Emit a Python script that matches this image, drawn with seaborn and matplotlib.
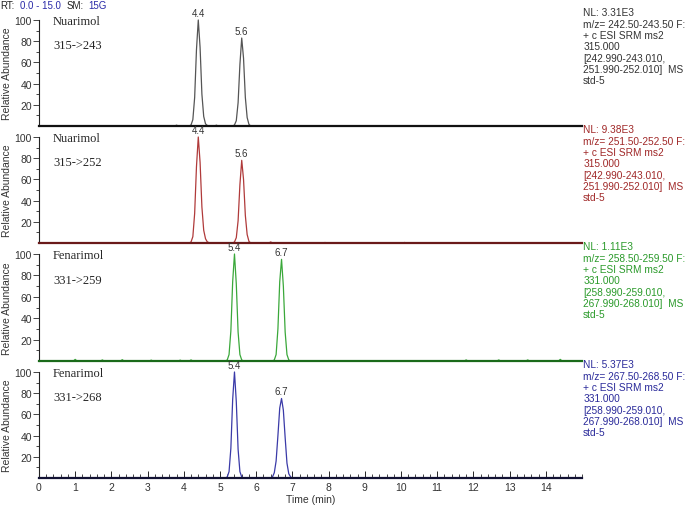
import numpy as np
import pandas as pd
import matplotlib.pyplot as plt
import seaborn as sns

# ---- data (time in min, relative abundance in %) ----
nua243_t = [0, 3.75, 3.8, 3.85, 4.15, 4.2, 4.25, 4.3, 4.35, 4.4, 4.45, 4.5, 4.55, 4.6, 4.65, 4.7,
            4.85, 4.9, 4.95, 5.35, 5.4, 5.45, 5.5, 5.55, 5.6, 5.65, 5.7, 5.75, 5.8, 5.85, 15]
nua243_y = [0, 0, 0.8, 0, 0, 1, 6, 27, 72, 100, 74, 30, 9, 2, 0.5, 0,
            0, 0.8, 0, 0, 1, 5, 22, 58, 83, 64, 27, 8, 1.5, 0, 0]

nua252_t = [0, 4.15, 4.2, 4.25, 4.3, 4.35, 4.4, 4.45, 4.5, 4.55, 4.6, 4.65, 4.7, 4.75,
            5.35, 5.4, 5.45, 5.5, 5.55, 5.6, 5.65, 5.7, 5.75, 5.8, 5.85,
            6.35, 6.4, 6.45, 7.85, 7.9, 7.95, 10.05, 10.1, 10.15, 15]
nua252_y = [0, 0, 1, 6, 28, 72, 100, 76, 34, 12, 4, 1, 0.3, 0,
            0, 1, 5, 21, 55, 78, 60, 26, 8, 1.5, 0,
            0, 1, 0, 0, 0.5, 0, 0, 0.5, 0, 0]

fen259_t = [0, 0.95, 1.0, 1.05, 1.7, 1.75, 1.8, 2.25, 2.3, 2.35, 3.05, 3.1, 3.15, 3.85, 3.9, 3.95,
            4.15, 4.2, 4.25, 5.15, 5.2, 5.25, 5.3, 5.35, 5.4, 5.45, 5.5, 5.55, 5.6, 5.65,
            6.45, 6.5, 6.55, 6.6, 6.65, 6.7, 6.75, 6.8, 6.85, 6.9, 6.95,
            11.75, 11.8, 11.85, 12.65, 12.7, 12.75, 13.45, 13.5, 13.55, 14.35, 14.4, 14.45, 15]
fen259_y = [0, 0, 1.5, 0, 0, 1, 0, 0, 1.2, 0, 0, 0.8, 0, 0, 0.8, 0,
            0, 1, 0, 0, 1, 6, 28, 74, 100, 72, 27, 6, 1, 0,
            0, 1, 6, 30, 74, 95, 70, 27, 6, 1, 0,
            0, 1, 0, 0, 1, 0, 0, 1, 0, 0, 1.5, 0, 0]

fen268_t = [0, 5.15, 5.2, 5.25, 5.3, 5.35, 5.4, 5.45, 5.5, 5.55, 5.6, 5.65,
            6.4, 6.45, 6.5, 6.55, 6.6, 6.65, 6.7, 6.75, 6.8, 6.85, 6.9, 6.95, 7.0, 15]
fen268_y = [0, 0, 1, 6, 28, 74, 100, 72, 27, 6, 1, 0,
            0, 1, 5, 16, 40, 66, 75, 64, 38, 14, 4, 1, 0, 0]

traces = [nua243_t, nua252_t, fen259_t, fen268_t]
values = [nua243_y, nua252_y, fen259_y, fen268_y]
compounds = ["Nuarimol", "Nuarimol", "Fenarimol", "Fenarimol"]
transitions = ["315->243", "315->252", "331->259", "331->268"]
peak_times = [[4.4, 5.6], [4.4, 5.6], [5.4, 6.7], [5.4, 6.7]]
peak_heights = [[100, 83], [100, 78], [100, 95], [100, 75]]
info = [
    "NL: 3.31E3\nm/z= 242.50-243.50 F:\n+ c ESI SRM ms2\n315.000\n[242.990-243.010,\n251.990-252.010]  MS\nstd-5",
    "NL: 9.38E3\nm/z= 251.50-252.50 F:\n+ c ESI SRM ms2\n315.000\n[242.990-243.010,\n251.990-252.010]  MS\nstd-5",
    "NL: 1.11E3\nm/z= 258.50-259.50 F:\n+ c ESI SRM ms2\n331.000\n[258.990-259.010,\n267.990-268.010]  MS\nstd-5",
    "NL: 5.37E3\nm/z= 267.50-268.50 F:\n+ c ESI SRM ms2\n331.000\n[258.990-259.010,\n267.990-268.010]  MS\nstd-5",
]
line_colors = ["#555555", "#b03a3a", "#3aa83a", "#3a3aa8"]
text_colors = ["#333333", "#a02828", "#2a9a2a", "#2a2a9a"]
base_colors = ["#111111", "#6a1a1a", "#1a6a1a", "#111133"]

sns.set_style("ticks")
plt.rcParams['font.family'] = ['Liberation Sans', 'DejaVu Sans']

fig = plt.figure(figsize=(6.85, 5.10), dpi=100)
W, H = 685, 510
left, right = 39, 582
tops = [21, 138, 255, 373]
bottoms = [127, 244, 362, 479]

for i in range(4):
    ax = fig.add_axes([left / W, 1 - bottoms[i] / H, (right - left) / W, (bottoms[i] - tops[i]) / H])
    df = pd.DataFrame({"Time": traces[i], "Abundance": values[i]})
    sns.lineplot(data=df, x="Time", y="Abundance", ax=ax, color=line_colors[i], lw=0.9, clip_on=False)
    ax.set_xlim(0, 15)
    ax.set_ylim(0, 100)
    for s in ["top", "right"]:
        ax.spines[s].set_visible(False)
    ax.spines["left"].set_linewidth(0.8)
    ax.spines["left"].set_color("#222222")
    ax.spines["bottom"].set_linewidth(1.6)
    ax.spines["bottom"].set_color(base_colors[i])
    ax.set_yticks([20, 40, 60, 80, 100])
    ax.set_yticks(np.arange(10, 100, 10), minor=True)
    ax.tick_params(axis="y", which="major", length=4, width=0.6, labelsize=7.5,
                   labelcolor="#333333", pad=1)
    ax.tick_params(axis="y", which="minor", length=2, width=0.6)
    ax.set_ylabel("Relative Abundance", fontsize=7.5, color="#333333", labelpad=2)
    if i < 3:
        ax.set_xticks([])
        ax.set_xlabel("")
    else:
        ax.set_xticks(range(0, 15))
        ax.set_xticks(np.arange(0, 15.01, 0.2), minor=True)
        ax.tick_params(axis="x", which="major", direction="in", length=5, width=0.7,
                       labelsize=7.5, labelcolor="#333333", pad=3)
        ax.tick_params(axis="x", which="minor", direction="in", length=3, width=0.6)
        ax.set_xlabel("Time (min)", fontsize=7.5, color="#333333", labelpad=1)
    ax.text(0.39, 99, compounds[i], family=["Liberation Serif"], fontsize=9, va="center", ha="left")
    ax.text(0.39, 76, transitions[i], family=["Liberation Serif"], fontsize=9, va="center", ha="left")
    for pt, ph in zip(peak_times[i], peak_heights[i]):
        ax.text(pt, ph + 2, f"{pt:.1f}", fontsize=7, color="#333333", ha="center", va="bottom",
                clip_on=False)
    ax.text(1.002, 1.12, info[i], transform=ax.transAxes, fontsize=7.3, color=text_colors[i],
            va="top", ha="left", linespacing=1.17)

fig.text(0.0, 1 - 1 / H, "RT:", fontsize=7, color="#222222", va="top", ha="left")
fig.text(20 / W, 1 - 1 / H, "0.0 - 15.0", fontsize=7, color="#2a2aa8", va="top", ha="left")
fig.text(67 / W, 1 - 1 / H, "SM:", fontsize=7, color="#222222", va="top", ha="left")
fig.text(88 / W, 1 - 1 / H, "15G", fontsize=7, color="#2a2aa8", va="top", ha="left")

plt.savefig("out.png", dpi=100)
